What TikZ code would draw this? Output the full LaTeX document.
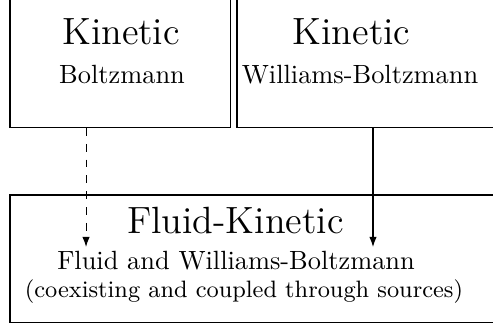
\documentclass[tikz,border=0pt]{standalone}
\usetikzlibrary{arrows.meta,positioning}

\begin{document}
\begin{tikzpicture}[
    model/.style={rectangle, draw, inner sep=0pt, outer sep=0pt, anchor=south west},
    title/.style={font=\Large, anchor=base},
    label/.style={font=\normalsize, anchor=base},
    note/.style={font=\small, anchor=base},
    arrow/.style={-{Latex[length=3.8pt,width=2.8pt]}}
]
    \useasboundingbox (0,0) rectangle (6.573,4.413);

    % Model boxes (cut by the page edges)
    \node[model, minimum width=2.934cm, minimum height=2.6cm] (kinB) at (0.133,2.707) {};
    \node[model, minimum width=4.5cm, minimum height=2.6cm] (kinWB) at (3.16,2.707) {};
    \node[model, minimum width=7.5cm, minimum height=1.706cm] (fluidkin) at (0.133,0.107) {};

    % Texts
    \node[title] (kinBtitle) at (1.613,3.813) {Kinetic};
    \node[label] (kinBtext) at (1.627,3.306) {Boltzmann};
    \node[title] (kinWBtitle) at (4.687,3.813) {Kinetic};
    \node[label] (kinWBtext) at (4.80,3.306) {Williams-Boltzmann};
    \node[title] (fktitle) at (3.14,1.306) {Fluid-Kinetic};
    \node[label] (fktext) at (3.147,0.826) {Fluid and Williams-Boltzmann};
    \node[note] (fknote) at (3.253,0.44) {(coexisting and coupled through sources)};

    % Arrow ends
    \coordinate (tipB) at (1.147,1.12);
    \coordinate (tipWB) at (4.973,1.12);

    % Arrows
    \draw[arrow, dashed] (kinB.south -| tipB) -- (tipB);
    \draw[arrow] (kinWB.south -| tipWB) -- (tipWB);

\end{tikzpicture}
\end{document}
